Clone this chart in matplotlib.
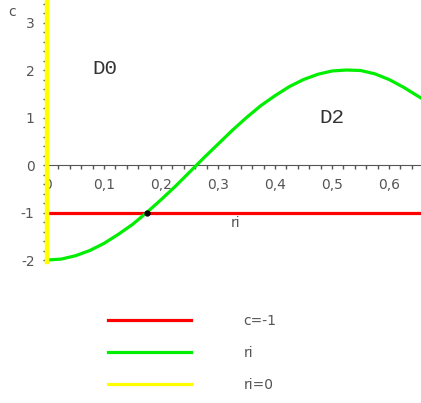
import matplotlib
matplotlib.use("Agg")
import matplotlib.pyplot as plt
from matplotlib.lines import Line2D
from matplotlib.ticker import MultipleLocator, FixedLocator

# data
ri_vals = [0.0, 0.025, 0.05, 0.075, 0.1, 0.125, 0.15, 0.175, 0.2, 0.225, 0.25, 0.275,
           0.3, 0.325, 0.35, 0.375, 0.4, 0.425, 0.45, 0.475, 0.5, 0.525, 0.55, 0.575,
           0.6, 0.625, 0.656]
c_vals = [-2.0, -1.98, -1.91, -1.80, -1.65, -1.46, -1.25, -1.00, -0.73, -0.45, -0.15, 0.15,
          0.44, 0.73, 1.00, 1.25, 1.46, 1.65, 1.80, 1.91, 1.98, 2.00, 1.99, 1.92,
          1.80, 1.64, 1.41]
red_c = -1.0
red_x = [0.0, 0.656]
yellow_y = [-2.05, 3.5]
dot_x, dot_y = 0.175, -1.0
x_ticks = [0.0, 0.1, 0.2, 0.3, 0.4, 0.5, 0.6]
x_tick_labels = ["0", "0,1", "0,2", "0,3", "0,4", "0,5", "0,6"]
y_ticks = [-2, -1, 0, 1, 2, 3]
y_tick_labels = ["-2", "-1", "0", "1", "2", "3"]
legend_labels = ["c=-1", "ri", "ri=0"]
region_labels = [("D0", 0.102, 2.04), ("D2", 0.50, 0.99)]

W, H = 421, 403
fig = plt.figure(figsize=(W / 100, H / 100), dpi=100)
ax_h = 270
ax = fig.add_axes([47 / W, (H - ax_h) / H, (W - 47) / W, ax_h / H])
ax.set_xlim(0, 0.656)
ax.set_ylim(-2.21, 3.474)

gray = "#555555"
for s in ["top", "right"]:
    ax.spines[s].set_visible(False)
ax.spines["bottom"].set_position(("data", 0))
ax.spines["left"].set_position(("data", 0))
ax.spines["left"].set_bounds(-2.05, 3.474)
ax.spines["bottom"].set_color(gray)
ax.spines["left"].set_color(gray)
ax.patch.set_alpha(0)

ax.xaxis.set_major_locator(FixedLocator(x_ticks))
ax.set_xticklabels(x_tick_labels)
ax.xaxis.set_minor_locator(MultipleLocator(0.02))
ax.set_yticks(y_ticks)
ax.set_yticklabels(y_tick_labels)
ax.yaxis.set_minor_locator(FixedLocator([v / 5 for v in range(-10, 18)]))
ax.tick_params(which="both", direction="out", color=gray, length=3, width=1,
               labelcolor=gray, labelsize=10, pad=6)

ax.plot(red_x, [red_c, red_c], color="#ff0000", lw=2.3, zorder=3, clip_on=False)
ax.plot(ri_vals, c_vals, color="#00ee00", lw=2.3, zorder=4, clip_on=False)
ax.plot([0, 0], yellow_y, color="#ffff00", lw=3.2, zorder=5, clip_on=False)
ax.plot([dot_x], [dot_y], "o", color="black", ms=3.5, zorder=6)

for txt, x, y in region_labels:
    ax.text(x, y, txt, family="Liberation Mono", fontsize=15, ha="center", va="center",
            color="#333333")

fig.text(12 / W, 1 - 12 / H, "c", fontsize=10, color=gray, ha="center", va="center")
ax.text(0.33, -1.08, "ri", fontsize=10, color=gray, ha="center", va="top")

handles = [Line2D([], [], color="#ff0000", lw=2.3),
           Line2D([], [], color="#00ee00", lw=2.3),
           Line2D([], [], color="#ffff00", lw=2.3)]
leg = fig.legend(handles, legend_labels, loc="upper left",
                 bbox_to_anchor=(102 / W, 1 - 308 / H), frameon=False,
                 handlelength=6.0, handletextpad=3.8, labelspacing=1.3, fontsize=10,
                 borderaxespad=0)
for t in leg.get_texts():
    t.set_color(gray)

fig.savefig("out.png", dpi=100)
